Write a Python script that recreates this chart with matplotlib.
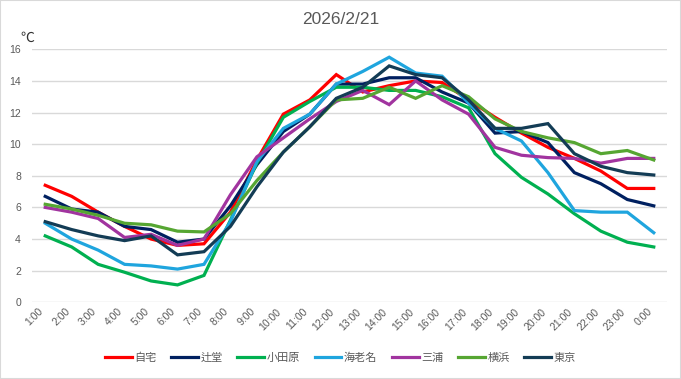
import matplotlib
matplotlib.use("Agg")
import matplotlib.pyplot as plt
from matplotlib.patches import Rectangle
from matplotlib.transforms import ScaledTranslation

hours = ["1:00", "2:00", "3:00", "4:00", "5:00", "6:00", "7:00", "8:00",
         "9:00", "10:00", "11:00", "12:00", "13:00", "14:00", "15:00", "16:00",
         "17:00", "18:00", "19:00", "20:00", "21:00", "22:00", "23:00", "0:00"]

jitaku = [7.4, 6.7, 5.7, 4.8, 4.0, 3.6, 3.7, 5.7, 9.0, 11.9, 12.8, 14.4,
          13.3, 13.7, 14.0, 13.9, 12.8, 11.7, 10.7, 9.8, 9.1, 8.3, 7.2, 7.2]
tsujido = [6.7, 5.9, 5.7, 4.8, 4.6, 3.8, 4.0, 6.1, 8.7, 10.8, 11.9, 13.8,
           13.8, 14.2, 14.2, 13.3, 12.6, 10.7, 10.8, 10.1, 8.2, 7.5, 6.5, 6.1]
odawara = [4.2, 3.5, 2.4, 1.9, 1.35, 1.1, 1.7, 5.2, 8.8, 11.7, 12.7, 13.6,
           13.6, 13.4, 13.4, 13.0, 12.3, 9.4, 7.9, 6.85, 5.6, 4.5, 3.8, 3.5]
ebina = [5.0, 4.0, 3.3, 2.4, 2.3, 2.1, 2.4, 5.1, 8.9, 11.0, 11.9, 13.8,
         14.6, 15.5, 14.5, 14.3, 12.6, 11.0, 10.2, 8.2, 5.8, 5.7, 5.7, 4.4]
miura = [6.0, 5.7, 5.3, 4.1, 4.3, 3.6, 4.0, 6.8, 9.2, 10.4, 11.6, 12.7,
         13.4, 12.5, 14.0, 12.8, 11.9, 9.8, 9.3, 9.15, 9.1, 8.8, 9.1, 9.1]
yokohama = [6.2, 5.9, 5.5, 5.0, 4.9, 4.5, 4.45, 5.6, 7.7, 9.5, 11.1, 12.8,
            12.9, 13.6, 12.9, 13.7, 13.0, 11.6, 10.8, 10.4, 10.1, 9.4, 9.6, 9.0]
tokyo = [5.1, 4.6, 4.2, 3.9, 4.2, 3.0, 3.2, 4.8, 7.3, 9.5, 11.1, 12.9,
         13.6, 14.95, 14.4, 14.2, 12.8, 11.0, 11.0, 11.3, 9.4, 8.6, 8.2, 8.05]

names = ["自宅", "辻堂", "小田原", "海老名", "三浦", "横浜", "東京"]
series = [jitaku, tsujido, odawara, ebina, miura, yokohama, tokyo]
colors = ["#FF0000", "#002060", "#00B050", "#1FA5DE", "#A1349F", "#56A632", "#133C55"]

plt.rcParams["font.family"] = ["Liberation Sans", "Noto Sans CJK JP", "DejaVu Sans"]

fig = plt.figure(figsize=(6.81, 3.79), dpi=100)
ax = fig.add_axes([32 / 681, 1 - 302.3 / 379, 635 / 681, 253 / 379])

x = list(range(len(hours)))
for name, vals, c in zip(names, series, colors):
    ax.plot(x, vals, color=c, lw=2.3, label=name, solid_joinstyle="miter")

ax.set_xlim(-0.5, len(hours) - 0.5)
ax.set_ylim(0, 16)
ax.set_yticks(range(0, 17, 2))
ax.set_xticks(x)
ax.set_xticklabels(hours, rotation=45, ha="right", fontsize=7.5, color="#595959")
# nudge rotated labels so their end sits just right of the tick
shift = ScaledTranslation(4 / 100, 0, fig.dpi_scale_trans)
for lab in ax.get_xticklabels():
    lab.set_transform(lab.get_transform() + shift)
ax.tick_params(axis="y", labelsize=7.5, labelcolor="#595959", length=0, pad=8)
ax.tick_params(axis="x", length=0, pad=3)
ax.grid(axis="y", color="#D9D9D9", lw=1)
ax.set_axisbelow(True)
for s in ax.spines.values():
    s.set_visible(False)

fig.text(0.5, 1 - 20 / 379, "2026/2/21", ha="center", va="center",
         fontsize=12.5, color="#595959")
fig.text(20 / 681, 1 - 45 / 379, "℃", ha="left", va="bottom",
         fontsize=10, color="#333333", family=["Noto Sans CJK JP", "DejaVu Sans"])

ax.legend(loc="center", bbox_to_anchor=(0.5, 1 - 358 / 379), bbox_transform=fig.transFigure,
          ncol=7, frameon=False, handlelength=2.4, handletextpad=0.25,
          columnspacing=1.3, labelcolor="#595959",
          prop={"family": ["Noto Sans CJK JP", "DejaVu Sans"], "size": 8})

fig.patches.append(Rectangle((0, 0), 1, 1, transform=fig.transFigure, fill=False,
                             edgecolor="#D9D9D9", lw=1.5))

fig.savefig("out.png", dpi=100)
